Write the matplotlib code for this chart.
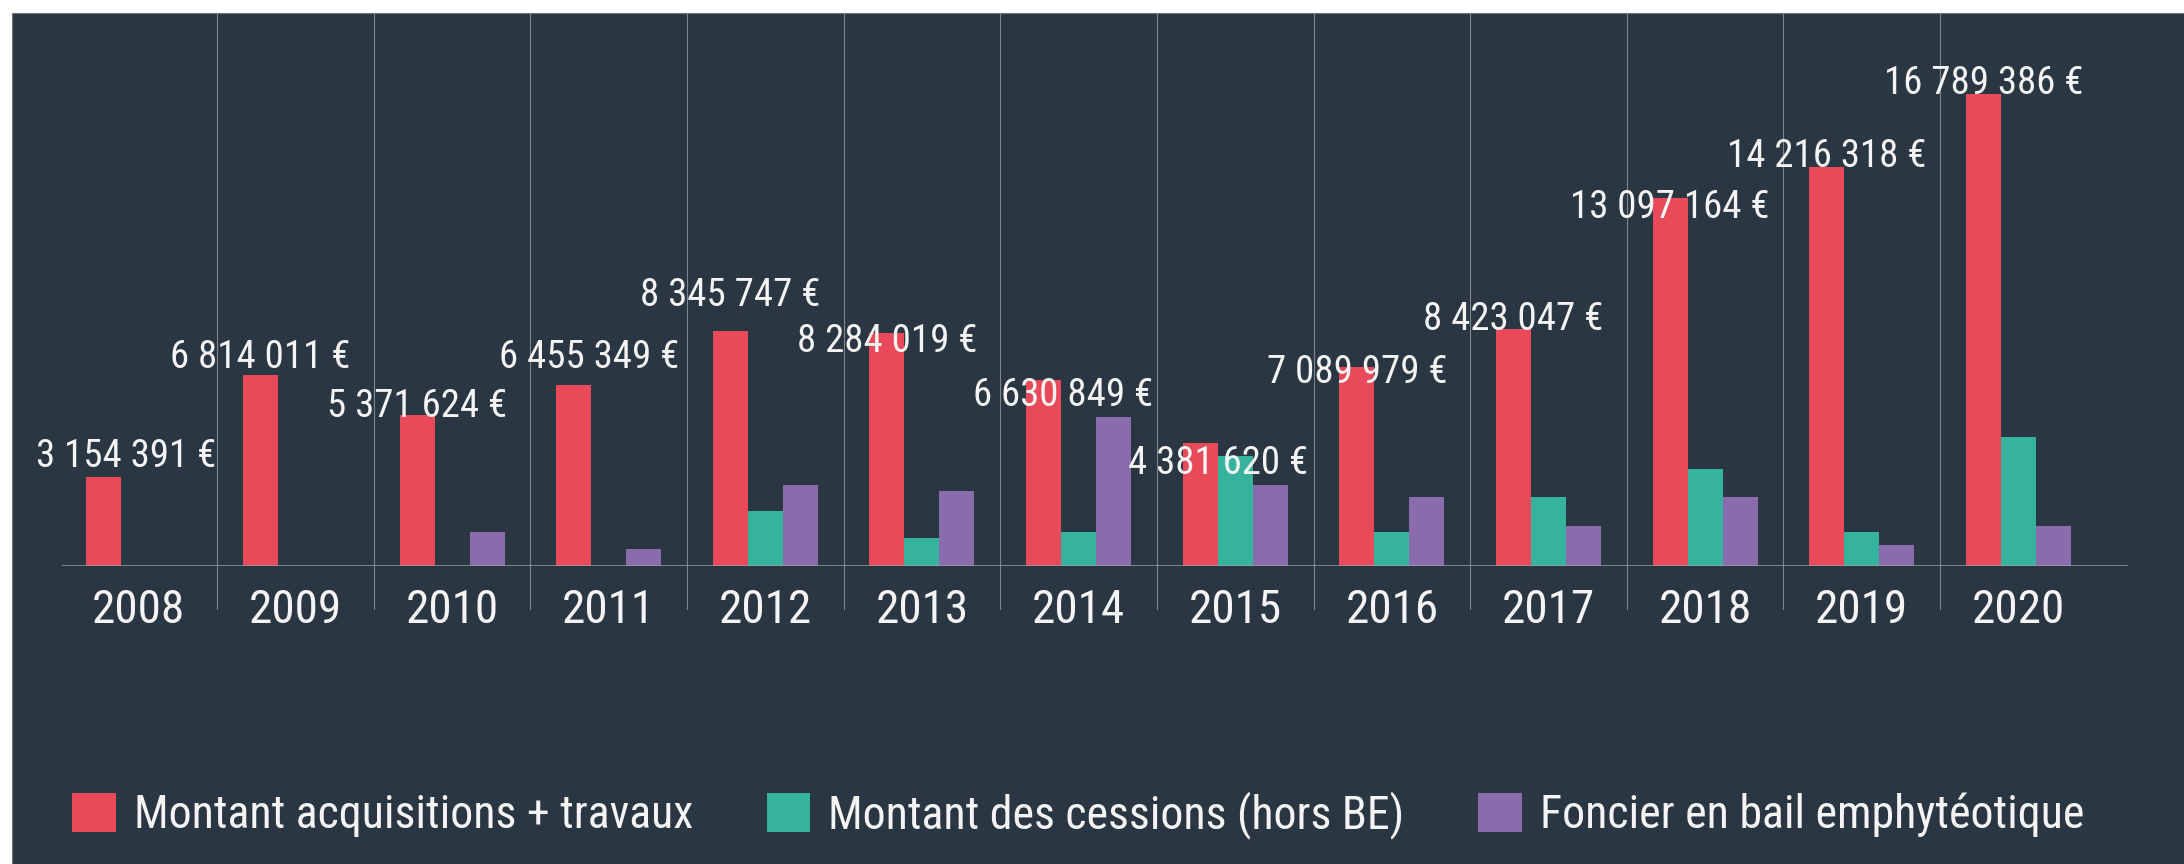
import matplotlib
matplotlib.use("Agg")
import matplotlib.pyplot as plt
from matplotlib import font_manager as fm
from matplotlib.patches import Rectangle, Patch
import numpy as np

# ---------------- data ----------------
years = ['2008', '2009', '2010', '2011', '2012', '2013', '2014',
         '2015', '2016', '2017', '2018', '2019', '2020']
acquisitions = [3154391, 6814011, 5371624, 6455349, 8345747, 8284019, 6630849,
                4381620, 7089979, 8423047, 13097164, 14216318, 16789386]
cessions = [0, 0, 0, 0, 1960000, 980000, 1200000,
            3910000, 1220000, 2450000, 3460000, 1200000, 4590000]
foncier = [0, 0, 1200000, 610000, 2890000, 2680000, 5310000,
           2890000, 2450000, 1430000, 2450000, 760000, 1430000]
series_names = ['Montant acquisitions + travaux',
                'Montant des cessions (hors BE)',
                'Foncier en bail emphytéotique']

# ---------------- style ----------------
BG = '#2a3642'
RED = '#e84a5a'
GREEN = '#35b39c'
PURPLE = '#8a6bae'
GRID = '#7f858d'
TXT = '#f4f4f4'

def pick(cands):
    for c in cands:
        try:
            fm.findfont(fm.FontProperties(family=c), fallback_to_default=False)
            return c
        except Exception:
            pass
    return 'DejaVu Sans'

FONT = pick(['Roboto Condensed', 'Liberation Sans Narrow', 'Open Sans Condensed', 'DejaVu Sans'])
plt.rcParams['font.family'] = [FONT, 'DejaVu Sans']

W, H = 2184, 864
fig = plt.figure(figsize=(W / 100, H / 100), dpi=100, facecolor='white')

# dark panel
fig.patches.append(Rectangle((12 / W, 0), 1, (H - 13) / H, transform=fig.transFigure,
                             facecolor=BG, edgecolor='#6d747c', lw=0.8, zorder=-10))

ax_l, ax_r, ax_t, ax_b = 62, 2128, 13, 566
ax = fig.add_axes([ax_l / W, (H - ax_b) / H, (ax_r - ax_l) / W, (ax_b - ax_t) / H])
ax.set_facecolor('none')
ax.set_zorder(1)
for s in ax.spines.values():
    s.set_visible(False)

x = np.arange(len(years))
w = 0.2235
ax.bar(x - w, acquisitions, w, color=RED, zorder=2)
ax.bar(x, cessions, w, color=GREEN, zorder=2)
ax.bar(x + w, foncier, w, color=PURPLE, zorder=2)

ax.set_xlim(-0.49, 12.70)
ax.set_ylim(0, 19.68e6)
ax.set_xticks([])
ax.set_yticks([])

# baseline
ax.axhline(0, color='#9a9ea5', lw=1.8, zorder=3)
# category separators (extend below the axis between the year labels)
for i in range(len(years) - 1):
    ax.axvline(i + 0.5, ymin=-0.078, ymax=1, color=GRID, lw=0.8, clip_on=False, zorder=1)

# year labels
for i, yr in enumerate(years):
    ax.text(i, -0.103, yr, transform=ax.get_xaxis_transform(), ha='center', va='baseline',
            fontsize=34, color=TXT)

# value labels on the red bars (layout nudges in pixels)
label_dx_px = [22, 0, 0, 16, 0, 0, 20, 18, 0, 0, 0, 0, 0]
label_rise_px = [10, 7, -2, 17, 25, -19, -26, -31, -16, -1, -20, 0, 0]
for i, v in enumerate(acquisitions):
    txt = f"{v:,}".replace(',', ' ') + ' €'
    ax.annotate(txt, xy=(i - w, v), xytext=(label_dx_px[i] * 0.72, label_rise_px[i] * 0.72),
                textcoords='offset points', ha='center', va='baseline',
                fontsize=28, color=TXT, zorder=5)

# legend
handles = [Patch(facecolor=c, edgecolor='none') for c in (RED, GREEN, PURPLE)]
leg = fig.legend(handles, series_names, loc='center left',
                 bbox_to_anchor=(72 / W, 1 - 815 / H), ncol=3, frameon=False,
                 fontsize=33, handlelength=0.95, handleheight=0.95,
                 handletextpad=0.4, columnspacing=1.6, borderpad=0, borderaxespad=0)
for t in leg.get_texts():
    t.set_color(TXT)

fig.savefig('out.png', dpi=100, facecolor='white')
